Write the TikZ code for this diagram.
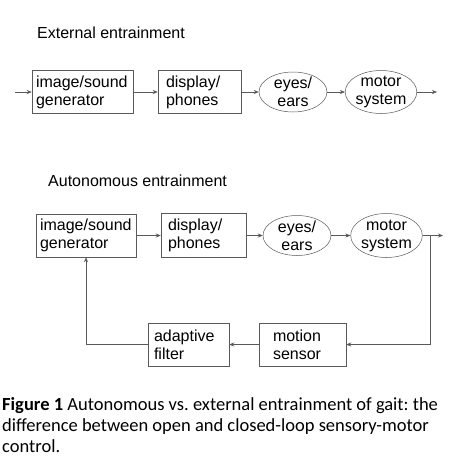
\documentclass[tikz,border=0pt]{standalone}
\usepackage{fontspec}
\setmainfont{Liberation Sans}
\newfontfamily\capfont{Carlito}
\usetikzlibrary{arrows.meta,shapes.geometric}
\frenchspacing

\begin{document}
\begin{tikzpicture}[
    x=1pt, y=-1pt,
    every node/.style={font=\fontsize{16}{18}\selectfont},
    b/.style ={
        rectangle,
        draw=black!65,
        line width=0.5pt,
        align=left,
        minimum height=43pt
    },
    e/.style ={
        ellipse,
        draw=black!65,
        line width=0.5pt,
        align=center,
        inner xsep=0pt,
        inner ysep=-4pt
    },
    a/.style ={
        draw=black!65,
        line width=0.5pt,
        -{Stealth[length=5pt,width=4pt]}
    }
    ]
    \path[fill=white] (0,0) rectangle (453,475);
    \useasboundingbox (0,0) rectangle (453,475);

    % open loop
    \node[anchor=west, inner sep=0pt] (t1) at (37,33) {External entrainment};
    \coordinate (in1) at (15,92);
    \node[b, inner xsep=4pt, text width=93pt] (gen1) at (82.5,92) {image/sound\\generator};
    \node[b, inner xsep=8pt, text width=67pt] (disp1) at (199.5,92) {display/\\phones};
    \node[e, minimum width=68pt, minimum height=40pt] (eyes1) at (293,92) {eyes/\\ears};
    \node[e, minimum width=69pt, minimum height=43pt] (motor1) at (381,92) {motor\\system};
    \coordinate (out1) at (437,92);

    % closed loop
    \node[anchor=west, inner sep=0pt] (t2) at (48,181) {Autonomous entrainment};
    \node[b, inner xsep=4pt, text width=92pt] (gen2) at (86,235.5) {image/sound\\generator};
    \node[b, inner xsep=7pt, text width=71pt, minimum height=44pt] (disp2) at (203.5,235.5) {display/\\phones};
    \node[e, minimum width=68pt, minimum height=40pt] (eyes2) at (297,235.5) {eyes/\\ears};
    \node[e, minimum width=69pt, minimum height=44pt] (motor2) at (386.5,235.5) {motor\\system};
    \coordinate (out2) at (443,235.5);
    \coordinate (br) at (430,235.5);
    \node[b, inner xsep=14pt, text width=59pt] (sens) at (302.5,344.5) {motion\\sensor};
    \node[b, inner xsep=6pt, text width=69pt] (filt) at (188.5,344.5) {adaptive\\filter};

    \foreach \src/ \dst in {in1/gen1, gen1/disp1, disp1/eyes1, eyes1/motor1, motor1/out1,
                            gen2/disp2, disp2/eyes2, eyes2/motor2, motor2/out2, sens/filt}
        \draw[a] (\src) -- (\dst);
    \draw[a] (br) |- (sens);
    \draw[a] (filt) -| (gen2);

    \node[anchor=north west, inner sep=0pt, align=left,
          font=\capfont\fontsize{18.5}{21}\selectfont] (cap) at (2,397)
        {\textbf{Figure 1} Autonomous vs.\ external entrainment of gait: the\\
         difference between open and closed-loop sensory-motor\\
         control.};

\end{tikzpicture}
\end{document}
